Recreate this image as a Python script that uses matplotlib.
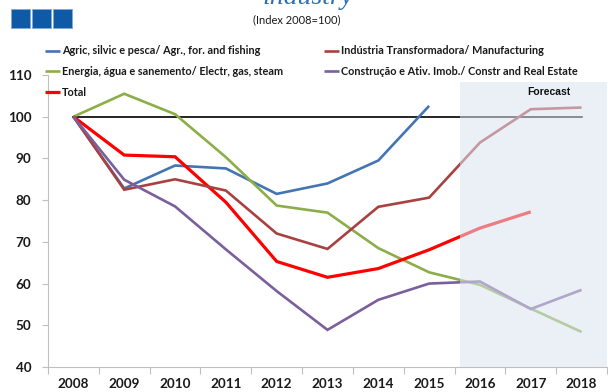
import matplotlib
matplotlib.use("Agg")
import matplotlib.pyplot as plt
import numpy as np
from matplotlib.patches import Rectangle

years = ["2008", "2009", "2010", "2011", "2012", "2013", "2014", "2015", "2016", "2017", "2018"]

agric = [100, 82.8, 88.3, 87.6, 81.5, 84.0, 89.5, 102.6, None, None, None]
manufacturing = [100, 82.5, 85.0, 82.3, 72.0, 68.3, 78.4, 80.6, 93.8, 101.8, 102.2]
energy = [100, 105.5, 100.6, 90.3, 78.7, 77.0, 68.5, 62.7, 59.7, 54.0, 48.4]
construction = [100, 84.9, 78.5, 68.2, 58.2, 48.9, 56.1, 60.0, 60.5, 53.9, 58.5]
total = [100, 90.8, 90.4, 79.5, 65.3, 61.5, 63.6, 68.1, 73.3, 77.2, None]

series = [
    ("Agric, silvic e pesca/ Agr., for. and fishing", agric, "#4475B3", 1.9),
    ("Energia, água e sanemento/ Electr, gas, steam", energy, "#8CAE48", 1.9),
    ("Total", total, "#FF0000", 2.3),
    ("Indústria Transformadora/ Manufacturing", manufacturing, "#A8413F", 1.9),
    ("Construção e Ativ. Imob./ Constr and Real Estate", construction, "#7B5E9C", 1.9),
]

W, H = 608, 392
fig = plt.figure(figsize=(W / 100, H / 100), dpi=100)
fig.patch.set_facecolor("white")

def fx(px):
    return px / W

def fy(py):
    return 1 - py / H

ax = fig.add_axes([fx(48), fy(367), fx(607) - fx(48), fy(75) - fy(367)])
x = np.arange(len(years))

handles = []
for label, vals, color, lw in series:
    v = np.array([np.nan if a is None else a for a in vals], dtype=float)
    h, = ax.plot(x, v, color=color, lw=lw, solid_capstyle="butt",
                 solid_joinstyle="miter", label=label, zorder=3)
    handles.append(h)

ax.plot([x[0], x[-1]], [100, 100], color="black", lw=1.2, zorder=2)

# forecast region overlay
ax.add_patch(Rectangle((7.6, 40), 10.5 - 7.6, 108.4 - 40, facecolor="#dbe3ef",
                       edgecolor="none", alpha=0.55, zorder=5))
ax.text(9.35, 106, "Forecast", ha="center", va="center", fontsize=7.5,
        fontweight="bold", family="Liberation Sans", color="#111111", zorder=6)

ax.set_xlim(-0.5, 10.5)
ax.set_ylim(40, 110)
ax.set_yticks(np.arange(40, 111, 10))
ax.set_xticks(np.arange(-0.5, 10.6, 1))
ax.set_xticklabels([])
ax.set_xticks(x, minor=True)
ax.set_xticklabels(years, minor=True)
ax.tick_params(axis="x", which="major", direction="out", length=5, color="#bfbfbf", width=0.8)
ax.tick_params(axis="x", which="minor", length=0, pad=8)
ax.tick_params(axis="y", direction="out", length=4, color="#bfbfbf", width=0.8, pad=8)
for lab in ax.get_xticklabels(minor=True) + ax.get_yticklabels():
    lab.set_fontfamily("Lato")
    lab.set_fontweight("bold")
    lab.set_fontsize(9.7)
    lab.set_color("#1a1a1a")

for s in ["top", "right"]:
    ax.spines[s].set_visible(False)
for s in ["left", "bottom"]:
    ax.spines[s].set_color("#bfbfbf")
    ax.spines[s].set_linewidth(0.8)

leg = fig.legend(handles=handles, loc="upper left", bbox_to_anchor=(fx(45), fy(45.5)),
                 ncol=2, frameon=False, borderpad=0, borderaxespad=0,
                 handlelength=1.4, handletextpad=0.15, columnspacing=3.8,
                 labelspacing=0.9,
                 prop={"family": "Lato", "weight": "bold", "size": 7.8})
for t in leg.get_texts():
    t.set_color("#1a1a1a")

# header decorations
for i, x0 in enumerate([11, 32, 53]):
    fig.patches.append(Rectangle((fx(x0), fy(28)), fx(19), fy(9) - fy(28),
                                 transform=fig.transFigure, facecolor="#0E5AA7",
                                 edgecolor="#7fa9d6", lw=0.6))

fig.text(fx(308), fy(4.5), "industry", ha="center", va="baseline", fontsize=20,
         style="italic", family="Liberation Serif", color="#2F6DB5")
fig.text(fx(297), fy(20), "(Index 2008=100)", ha="center", va="center",
         fontsize=8, family="Lato", color="#1a1a1a")

fig.savefig("out.png", dpi=100)
